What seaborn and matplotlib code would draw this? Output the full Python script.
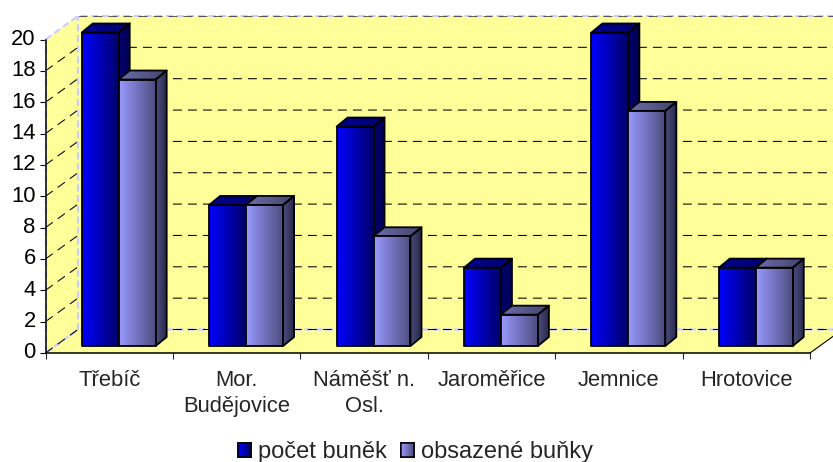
import numpy as np
import pandas as pd
import matplotlib
matplotlib.use('Agg')
import matplotlib.pyplot as plt
import matplotlib.colors as mcolors
from matplotlib.patches import Polygon
import seaborn as sns

categories = ['Třebíč', 'Mor.\nBudějovice', 'Náměšť n.\nOsl.', 'Jaroměřice', 'Jemnice', 'Hrotovice']
pocet_bunek = [20, 9, 14, 5, 20, 5]
obsazene_bunky = [17, 9, 7, 2, 15, 5]
series_names = ['počet buněk', 'obsazené buňky']
y_ticks = list(range(0, 21, 2))

df = pd.DataFrame({
    'misto': categories * 2,
    'serie': [series_names[0]] * 6 + [series_names[1]] * 6,
    'pocet': pocet_bunek + obsazene_bunky,
})

sns.set_style('white')
plt.rcParams['font.family'] = ['Liberation Sans', 'DejaVu Sans']

W, H = 833, 462
WALL = '#ffff99'
EDGE = '#ccccff'

# pixel position of the front plane of the 3D box
left, right, y0, y20 = 45.5, 810, 353, 39.5
wall_dx = 32.5 / ((right - left) / 6)
wall_dy = 23.5 / ((y0 - y20) / 20)
bar_dx = 11 / ((right - left) / 6)
bar_dy = 9 / ((y0 - y20) / 20)

fig = plt.figure(figsize=(W / 100, H / 100), dpi=100)
ax = fig.add_axes([left / W, 1 - y0 / H, (right - left) / W, (y0 - y20) / H])
ax.set_xlim(-0.5, 5.5)
ax.set_ylim(0, 20)
ax.patch.set_alpha(0)

# walls and floor
x_a, x_b = -0.5, 5.5
ax.add_patch(Polygon([(x_a, 0), (x_a + wall_dx, wall_dy), (x_a + wall_dx, 20 + wall_dy), (x_a, 20)],
                     fc=WALL, ec='none', clip_on=False, zorder=0))
ax.add_patch(Polygon([(x_a + wall_dx, wall_dy), (x_b + wall_dx, wall_dy), (x_b + wall_dx, 20 + wall_dy), (x_a + wall_dx, 20 + wall_dy)],
                     fc=WALL, ec='none', clip_on=False, zorder=0))
ax.add_patch(Polygon([(x_a, 0), (x_b, 0), (x_b + wall_dx, wall_dy), (x_a + wall_dx, wall_dy)],
                     fc=WALL, ec='none', clip_on=False, zorder=0))

dash = (0, (8.6, 5.8))
edge_dash = (0, (3.2, 1.6))
for v in y_ticks:
    xs = [x_a, x_a + wall_dx, x_b + wall_dx]
    ys = [v, v + wall_dy, v + wall_dy]
    if v in (0, 20):
        ax.plot(xs, ys, color=EDGE, lw=1.6, ls=edge_dash, clip_on=False, zorder=1)
    if v == 20:
        ax.plot(xs[1:], ys[1:], color='black', lw=0.75, ls=dash, clip_on=False, zorder=1, alpha=0.6)
    else:
        ax.plot(xs, ys, color='black', lw=0.75, ls=dash, clip_on=False, zorder=1)
ax.plot([x_a + wall_dx] * 2, [wall_dy, 20 + wall_dy], color=EDGE, lw=1.6, ls=edge_dash, clip_on=False, zorder=1)
ax.plot([x_a] * 2, [0, 20], color=EDGE, lw=1.6, ls=edge_dash, clip_on=False, zorder=1)
ax.plot([x_b, x_b + wall_dx], [0, wall_dy], color='black', lw=0.8, clip_on=False, zorder=1)

# axes and ticks
sns.despine(ax=ax)
for s in ['left', 'bottom']:
    ax.spines[s].set_linewidth(1.1)
    ax.spines[s].set_color('black')
    ax.spines[s].set_zorder(2)
ax.set_yticks(y_ticks)
ax.set_xticks(np.arange(7) - 0.5)
ax.set_xticklabels([])
ax.set_xticks(range(6), minor=True)
ax.set_xticklabels(categories, minor=True, linespacing=1.33)
ax.tick_params(axis='y', which='major', left=True, length=4, width=0.8, pad=3, labelsize=15.8, colors='black')
ax.tick_params(axis='x', which='major', bottom=True, length=4, width=0.8)
ax.tick_params(axis='x', which='minor', bottom=False, length=0, pad=12, labelsize=15.8)
for lab in ax.get_yticklabels():
    lab.set_verticalalignment('center')
    lab.set_y(lab.get_position()[1])

# bars sit a little deeper in the box than the axis plane
ax_bars = fig.add_axes([(left + 9.5) / W, 1 - (y0 - 7) / H, (right - left) / W, (y0 - y20) / H])
sns.barplot(data=df, x='misto', y='pocet', hue='serie', order=categories, hue_order=series_names,
            palette=['#000099', '#7373bf'], width=0.58, gap=0, ax=ax_bars, edgecolor='black', linewidth=1.1)
ax_bars.set_xlim(-0.5, 5.5)
ax_bars.set_ylim(0, 20)


def grad_face(a, pts, c1, c2, z):
    pts = np.array(pts)
    ramp = np.linspace(mcolors.to_rgb(c1), mcolors.to_rgb(c2), 64)[None, :, :]
    im = a.imshow(ramp, aspect='auto', zorder=z, interpolation='bilinear',
                  extent=(pts[:, 0].min(), pts[:, 0].max(), pts[:, 1].min(), pts[:, 1].max()))
    im.set_clip_box(fig.bbox)
    im.set_clip_path(Polygon(pts, transform=a.transData))
    a.add_patch(Polygon(pts, fill=False, ec='black', lw=1.3, zorder=z + 0.1, clip_on=False, joinstyle='round'))


face_cols = [
    {'front': ('#0000ff', '#00006a'), 'side': ('#000070', '#000050'), 'top': ('#000090', '#000070')},
    {'front': ('#9999ff', '#4d4d80'), 'side': ('#4d4d80', '#28284a'), 'top': ('#6c6cae', '#44446a')},
]
for i, cont in enumerate(ax_bars.containers):
    cols = face_cols[i]
    for bar in cont:
        x, w, h = bar.get_x(), bar.get_width(), bar.get_height()
        z = 3 + i * 2
        grad_face(ax_bars, [(x + w, 0), (x + w + bar_dx, bar_dy), (x + w + bar_dx, h + bar_dy), (x + w, h)],
                  *cols['side'], z)
        grad_face(ax_bars, [(x, h), (x + w, h), (x + w + bar_dx, h + bar_dy), (x + bar_dx, h + bar_dy)],
                  *cols['top'], z)
        grad_face(ax_bars, [(x, 0), (x + w, 0), (x + w, h), (x, h)], *cols['front'], z + 1)
        bar.set_visible(False)
ax_bars.set_xlim(-0.5, 5.5)
ax_bars.set_ylim(0, 20)
ax_bars.axis('off')

sns.move_legend(ax_bars, 'lower center', bbox_to_anchor=(415.5 / W, 1 - 468 / H),
                bbox_transform=fig.transFigure, ncol=2, frameon=False, title=None,
                fontsize=17, handlelength=0.55, handleheight=0.55, handletextpad=0.3,
                columnspacing=0.62, borderaxespad=0, borderpad=0.2)

# legend swatches get the same gradient as the bars
fig.canvas.draw()
leg = ax_bars.get_legend()
for i, patch in enumerate(leg.get_patches()):
    bb = patch.get_window_extent().transformed(fig.transFigure.inverted())
    sw = fig.add_axes([bb.x0, bb.y0, bb.width, bb.height])
    ramp = np.linspace(mcolors.to_rgb(face_cols[i]['front'][0]), mcolors.to_rgb(face_cols[i]['front'][1]), 32)[None, :, :]
    sw.imshow(ramp, aspect='auto')
    sw.set_xticks([])
    sw.set_yticks([])
    for s in sw.spines.values():
        s.set_linewidth(1.1)
        s.set_color('black')

fig.savefig('out.png', dpi=100)
